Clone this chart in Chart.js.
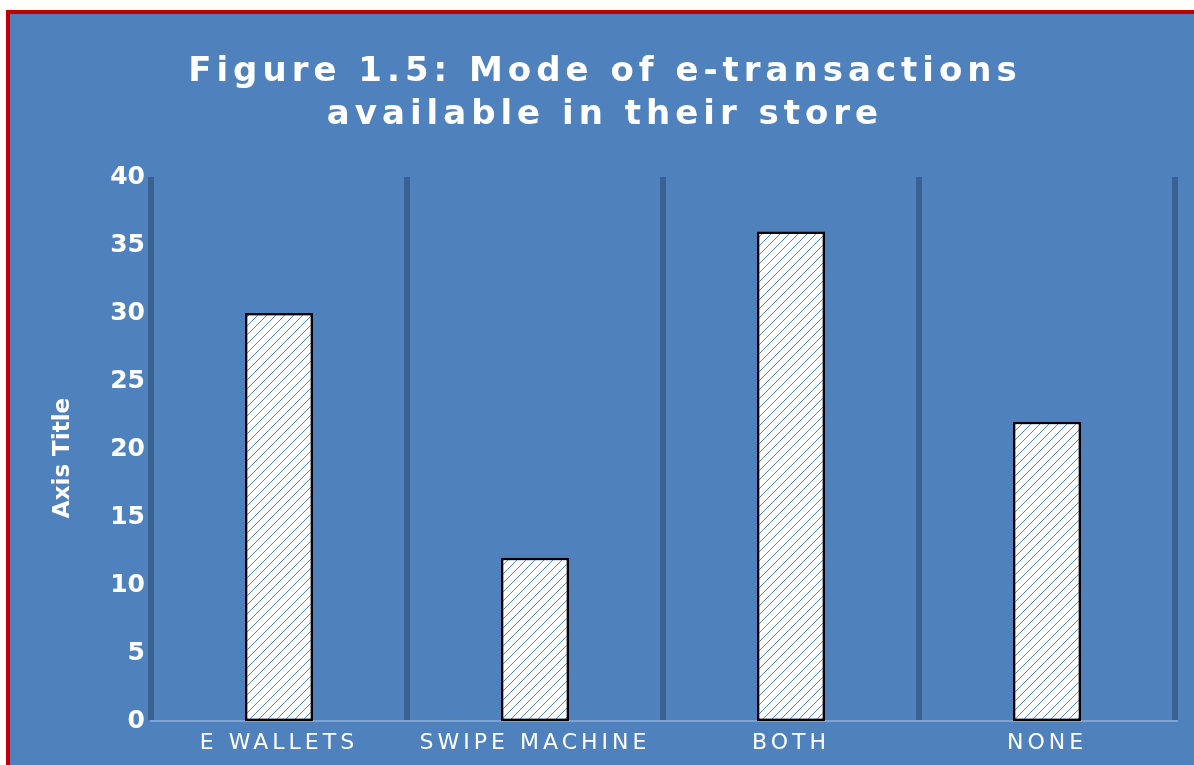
<!DOCTYPE html>
<html><head><meta charset="utf-8">
<script src="https://cdn.jsdelivr.net/npm/chart.js@4"></script>
<style>
html,body{margin:0;padding:0;background:#fff;overflow:hidden;width:1194px;height:765px}
#frame{position:absolute;left:6px;top:10px;width:1200px;height:770px;border:4px solid #C00000;background:#4F81BD;}
#wrap{position:absolute;left:0;top:0;width:1186px;height:751px}
</style></head><body>
<div id="frame"><div id="wrap"><canvas id="c"></canvas></div></div>
<script>
const categories = ['E WALLETS', 'SWIPE MACHINE', 'BOTH', 'NONE'];
const values = [30, 12, 36, 22];
const titleLines = ['Figure 1.5: Mode of e-transactions', 'available in their store'];
const yAxisTitle = 'Axis Title';
const yMin = 0, yMax = 40, yStep = 5;

function makeHatch() {
  const n = 9;
  const t = document.createElement('canvas');
  t.width = n; t.height = n;
  const g = t.getContext('2d');
  g.fillStyle = '#ffffff';
  g.fillRect(0, 0, n, n);
  g.fillStyle = '#4F82CC';
  for (let i = 0; i < n; i++) g.fillRect(i, n - 1 - i, 1, 1);
  return g.createPattern(t, 'repeat');
}

const spacingPlugin = {
  id: 'spacing',
  afterLayout(chart) {
    const tb = chart.titleBlock;
    if (tb) {
      tb.left = 25;
      if (!tb._sp) {
        const d = tb.draw.bind(tb);
        tb.draw = function (...a) { const ctx = chart.ctx; ctx.save(); ctx.letterSpacing = '5px'; d(...a); ctx.restore(); };
        tb._sp = true;
      }
    }
    const xs = chart.scales.x;
    if (xs && !xs._sp) {
      const d = xs.drawLabels.bind(xs);
      xs.drawLabels = function (...a) { const ctx = chart.ctx; ctx.save(); ctx.letterSpacing = '4px'; d(...a); ctx.restore(); };
      xs._sp = true;
    }
    const ys = chart.scales.y;
    if (ys && !ys._sp) {
      const d = ys.drawTitle.bind(ys);
      ys.drawTitle = function (...a) { const ctx = chart.ctx; ctx.save(); ctx.translate(0, 9); d(...a); ctx.restore(); };
      ys._sp = true;
    }
  }
};

new Chart(document.getElementById('c'), {
  type: 'bar',
  data: {
    labels: categories,
    datasets: [{
      data: values,
      backgroundColor: makeHatch(),
      borderColor: '#000000',
      borderWidth: 2.5,
      borderSkipped: false,
      barPercentage: 0.266,
      categoryPercentage: 1
    }]
  },
  options: {
    responsive: true,
    maintainAspectRatio: false,
    animation: false,
    layout: { padding: { left: 0, right: 21, top: 0, bottom: 0 } },
    plugins: {
      legend: { display: false },
      tooltip: { enabled: false },
      title: {
        display: true,
        text: titleLines,
        color: '#ffffff',
        font: { family: 'DejaVu Sans', size: 34, weight: 'bold', lineHeight: 1.25 },
        padding: { top: 37, bottom: 41 }
      }
    },
    scales: {
      x: {
        offset: true,
        grid: { display: true, color: '#3A6291', lineWidth: 6, drawTicks: false, offset: true },
        border: { display: true, color: '#7FA3D3', width: 2 },
        ticks: { color: '#ffffff', font: { family: 'DejaVu Sans', size: 22 }, padding: 9, maxRotation: 0, autoSkip: false },
        afterFit(s) { s.height = 44; }
      },
      y: {
        min: yMin, max: yMax,
        grid: { display: false, drawTicks: false },
        border: { display: false },
        ticks: { stepSize: yStep, color: '#ffffff', font: { family: 'DejaVu Sans', size: 25, weight: 'bold' }, padding: 6 },
        title: { display: true, text: yAxisTitle, color: '#ffffff', font: { family: 'DejaVu Sans', size: 23, weight: 'bold' }, padding: { top: 39, bottom: 0 } },
        afterFit(s) { s.width = 141; }
      }
    }
  },
  plugins: [spacingPlugin]
});
</script>
</body></html>
